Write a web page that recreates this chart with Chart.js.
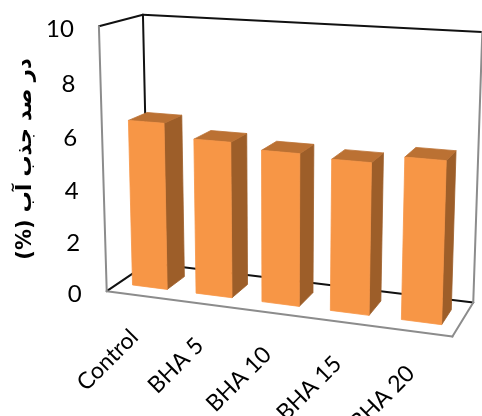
<!DOCTYPE html>
<html>
<head>
<meta charset="utf-8">
<script src="https://cdn.jsdelivr.net/npm/chart.js@4.4.1/dist/chart.umd.min.js"></script>
<style>
  html, body { margin: 0; padding: 0; background: #ffffff; }
  #wrap { width: 482px; height: 416px; position: relative; }
</style>
</head>
<body>
<div id="wrap"><canvas id="chart"></canvas></div>
<script>
// ---- data ----
const categories = ['Control', 'BHA 5', 'BHA 10', 'BHA 15', 'BHA 20'];
const absorption = [6.4, 5.9, 5.7, 5.6, 5.9];
const yTicks = [0, 2, 4, 6, 8, 10];
const yTitle = 'در صد جذب آب (%)';

// ---- 3D view ----
// Unit box of the plot (x across categories, y up the value axis, z into the page)
// and the canvas points its corners are seen at.
const viewCorners = [
  [[0, 0, 0], [108, 290]],
  [[0, 1, 0], [97, 27]],
  [[0, 0, 1], [147, 264]],
  [[0, 1, 1], [145, 14]],
  [[1, 0, 0], [453, 337]],
  [[1, 0, 1], [473, 302]],
  [[1, 1, 1], [482, 32]]
];
const barDepth = [0.27, 0.71];   // front and back of each column along z

// Least-squares perspective projection (3x4 matrix, last entry fixed to 1)
function fitProjection(pairs) {
  const rows = [], rhs = [];
  for (const [[X, Y, Z], [u, v]] of pairs) {
    rows.push([X, Y, Z, 1, 0, 0, 0, 0, -u * X, -u * Y, -u * Z]); rhs.push(u);
    rows.push([0, 0, 0, 0, X, Y, Z, 1, -v * X, -v * Y, -v * Z]); rhs.push(v);
  }
  const n = 11;
  const A = Array.from({ length: n }, () => new Array(n + 1).fill(0));
  rows.forEach((r, k) => {
    for (let i = 0; i < n; i++) {
      for (let j = 0; j < n; j++) A[i][j] += r[i] * r[j];
      A[i][n] += r[i] * rhs[k];
    }
  });
  for (let c = 0; c < n; c++) {
    let p = c;
    for (let r = c + 1; r < n; r++) if (Math.abs(A[r][c]) > Math.abs(A[p][c])) p = r;
    [A[c], A[p]] = [A[p], A[c]];
    for (let r = 0; r < n; r++) {
      if (r === c) continue;
      const f = A[r][c] / A[c][c];
      for (let j = c; j <= n; j++) A[r][j] -= f * A[c][j];
    }
  }
  const m = A.map((row, i) => row[n] / row[i]);
  return (X, Y, Z) => {
    const w = m[8] * X + m[9] * Y + m[10] * Z + 1;
    return [(m[0] * X + m[1] * Y + m[2] * Z + m[3]) / w,
            (m[4] * X + m[5] * Y + m[6] * Z + m[7]) / w];
  };
}
const project = fitProjection(viewCorners);

const colors = {
  front: '#F79646',
  side: '#9D5E29',
  top: '#BB7133',
  wall: '#111111',
  edge: '#8C8C8C',
  text: '#000000'
};

function line(ctx, a, b, color, width) {
  const p = project(...a), q = project(...b);
  ctx.beginPath();
  ctx.moveTo(p[0], p[1]);
  ctx.lineTo(q[0], q[1]);
  ctx.strokeStyle = color;
  ctx.lineWidth = width;
  ctx.stroke();
}

function face(ctx, pts, color) {
  ctx.beginPath();
  pts.forEach((pt, i) => {
    const [x, y] = project(...pt);
    if (i === 0) ctx.moveTo(x, y); else ctx.lineTo(x, y);
  });
  ctx.closePath();
  ctx.fillStyle = color;
  ctx.fill();
  ctx.strokeStyle = color;
  ctx.lineWidth = 0.8;
  ctx.stroke();
}

const box3d = {
  id: 'box3d',
  beforeDatasetsDraw(chart) {
    const ctx = chart.ctx;
    ctx.save();
    ctx.lineCap = 'round';
    // back wall, side wall and floor edges behind the columns
    line(ctx, [0, 1, 1], [1, 1, 1], colors.wall, 2);
    line(ctx, [0, 1, 1], [0, 0, 1], colors.wall, 2);
    line(ctx, [0, 1, 0], [0, 1, 1], colors.wall, 2);
    line(ctx, [0, 0, 1], [1, 0, 1], colors.wall, 2);
    line(ctx, [0, 0, 0], [0, 0, 1], colors.wall, 2);
    line(ctx, [1, 0, 1], [1, 1, 1], colors.edge, 2);
    ctx.restore();
  },
  afterDatasetsDraw(chart) {
    const ctx = chart.ctx;
    const area = chart.chartArea;
    const yScale = chart.scales.y;
    const meta = chart.getDatasetMeta(0);
    const toX = px => (px - area.left) / area.width;
    const toY = py => (area.bottom - py) / area.height;
    const [z0, z1] = barDepth;

    ctx.save();
    meta.data.forEach(el => {
      const xa = toX(el.x - el.width / 2), xb = toX(el.x + el.width / 2);
      const yb = toY(el.base), yt = toY(el.y);
      face(ctx, [[xb, yb, z0], [xb, yb, z1], [xb, yt, z1], [xb, yt, z0]], colors.side);
      face(ctx, [[xa, yt, z0], [xb, yt, z0], [xb, yt, z1], [xa, yt, z1]], colors.top);
      face(ctx, [[xa, yb, z0], [xb, yb, z0], [xb, yt, z0], [xa, yt, z0]], colors.front);
    });

    // front edges of the floor and the side wall
    ctx.lineCap = 'round';
    line(ctx, [0, 0, 0], [0, 1, 0], colors.edge, 2);
    line(ctx, [0, 0, 0], [1, 0, 0], colors.edge, 2);
    line(ctx, [1, 0, 0], [1, 0, 1], colors.edge, 2);

    // value axis labels along the front edge of the side wall
    ctx.fillStyle = colors.text;
    ctx.font = '24px Lato';
    ctx.textAlign = 'right';
    ctx.textBaseline = 'middle';
    yTicks.forEach(v => {
      const [x, y] = project(0, toY(yScale.getPixelForValue(v)), 0);
      ctx.fillText(String(v), x - 25, y + 3);
    });

    // category labels, tilted
    ctx.font = '23px Lato';
    meta.data.forEach((el, i) => {
      const [x, y] = project(toX(el.x), 0, 0);
      ctx.save();
      ctx.translate(x - 4, y + 38);
      ctx.rotate(-Math.PI / 4);
      ctx.textAlign = 'right';
      ctx.textBaseline = 'middle';
      ctx.fillText(chart.data.labels[i], 0, 0);
      ctx.restore();
    });

    // value axis title
    ctx.save();
    ctx.translate(26, 159);
    ctx.rotate(-Math.PI / 2);
    ctx.direction = 'rtl';
    ctx.font = 'bold 21px "DejaVu Sans"';
    ctx.textAlign = 'center';
    ctx.textBaseline = 'middle';
    ctx.fillText(yTitle, 0, 0);
    ctx.restore();

    ctx.restore();
  }
};

new Chart(document.getElementById('chart'), {
  type: 'bar',
  data: {
    labels: categories,
    datasets: [{
      data: absorption,
      backgroundColor: 'rgba(0,0,0,0)',
      borderWidth: 0,
      categoryPercentage: 1,
      barPercentage: 0.55
    }]
  },
  options: {
    responsive: true,
    maintainAspectRatio: false,
    animation: false,
    devicePixelRatio: 1,
    layout: { padding: 0 },
    plugins: { legend: { display: false }, tooltip: { enabled: false } },
    scales: {
      x: { display: false },
      y: { display: false, min: 0, max: 10 }
    }
  },
  plugins: [box3d]
});
</script>
</body>
</html>
